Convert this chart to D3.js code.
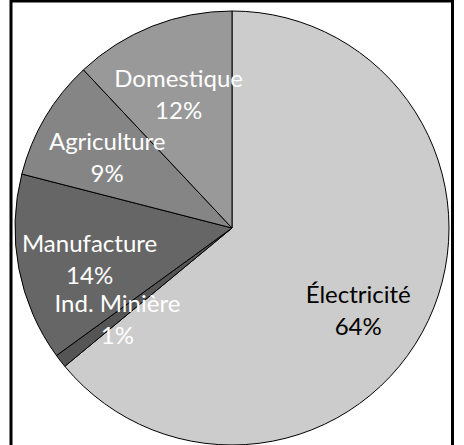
<!DOCTYPE html>
<html><head><meta charset="utf-8">
<script src="https://cdn.jsdelivr.net/npm/d3@7"></script>
<style>html,body{margin:0;padding:0;background:#fff;}svg{display:block;}</style>
</head><body>
<svg id="chart" width="464" height="445"></svg>
<script>
const categories = ["Électricité", "Ind. Minière", "Manufacture", "Agriculture", "Domestique"];
const values = [64, 1, 14, 9, 12];
const labels = ["64%", "1%", "14%", "9%", "12%"];
const colors = ["#cccccc", "#555555", "#666666", "#858585", "#999999"];
const textColors = ["#000000", "#ffffff", "#ffffff", "#ffffff", "#ffffff"];

const svg = d3.select("#chart");
svg.append("rect").attr("x", 11).attr("y", 1).attr("width", 441.5).attr("height", 460)
  .attr("fill", "none").attr("stroke", "#000").attr("stroke-width", 3);

const cx = 232, cy = 228, R = 217;
const g = svg.append("g").attr("transform", `translate(${cx},${cy})`);
const data = categories.map((c, i) => ({cat: c, value: values[i], label: labels[i], color: colors[i], tc: textColors[i]}));
const pie = d3.pie().value(d => d.value).sort(null);
const arc = d3.arc().innerRadius(0).outerRadius(R);
const arcs = pie(data);
// label placement tweaks (layout only)
const labelR = [145, 145, 145, 145, 145];
const labelShift = [[-5, 16], [0, -2], [0, -1], [0, -2], [0, -4]];

g.selectAll("path.slice").data(arcs).enter().append("path")
  .attr("class", "slice")
  .attr("d", arc)
  .attr("fill", d => d.data.color)
  .attr("stroke", "#000").attr("stroke-width", 1);

const t = g.selectAll("text.lbl").data(arcs).enter().append("text")
  .attr("class", "lbl")
  .attr("transform", (d, i) => {
    const r = labelR[i];
    const [x, y] = d3.arc().innerRadius(r).outerRadius(r).centroid(d);
    return `translate(${x + labelShift[i][0]},${y + labelShift[i][1]})`;
  })
  .attr("text-anchor", "middle")
  .attr("font-family", "Lato, 'Open Sans', sans-serif")
  .attr("font-size", 24)
  .attr("fill", d => d.data.tc);
t.append("tspan").attr("x", 0).attr("dy", "-0.1em").text(d => d.data.cat);
t.append("tspan").attr("x", 0).attr("dy", 32).text(d => d.data.label);
</script>
</body></html>
